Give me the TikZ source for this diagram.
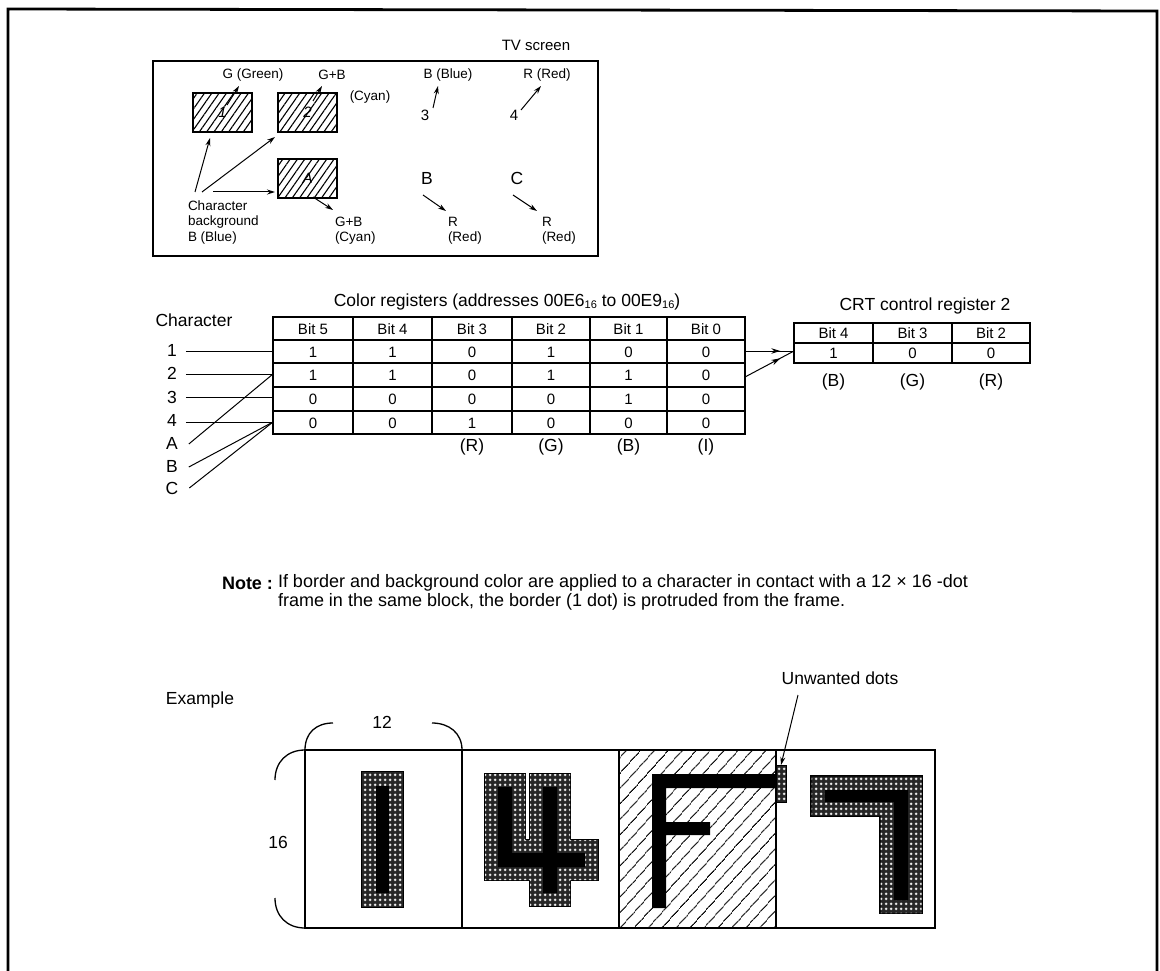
\documentclass[tikz,border=0pt]{standalone}
\usepackage{fontspec}
\setmainfont{Liberation Sans}
\usetikzlibrary{arrows.meta,patterns,patterns.meta,decorations.markings}
\newcommand{\subsix}{\raisebox{-1.5pt}{\fontsize{11}{11}\selectfont 16}}
\pgfdeclarepatternformonly{plusgrid}{\pgfqpoint{0pt}{0pt}}{\pgfqpoint{4.6pt}{4.6pt}}{\pgfqpoint{4.6pt}{4.6pt}}{%
  \pgfsetlinewidth{0.9pt}%
  \pgfpathmoveto{\pgfqpoint{0.9pt}{2.3pt}}\pgfpathlineto{\pgfqpoint{3.7pt}{2.3pt}}%
  \pgfpathmoveto{\pgfqpoint{2.3pt}{0.9pt}}\pgfpathlineto{\pgfqpoint{2.3pt}{3.7pt}}%
  \pgfusepath{stroke}}
\begin{document}
\begin{tikzpicture}[x=1pt,y=-1pt,
  every node/.style={inner sep=0pt,outer sep=0pt},
  fa/.style={font=\fontsize{13.5}{16}\selectfont},
  fb/.style={font=\fontsize{15}{17}\selectfont},
  fc/.style={font=\fontsize{18}{20}\selectfont},
  fd/.style={font=\fontsize{17.5}{20}\selectfont},
  hbox/.style={draw,line width=1.3pt,minimum width=59pt,minimum height=39pt,
    pattern={Lines[angle=55,distance=6pt,line width=1.1pt]},font=\fontsize{15}{17}\selectfont\itshape},
  arr/.style={-{Stealth[length=8pt,width=5pt]},line width=1pt},
  thin/.style={line width=1pt},
  tbl/.style={line width=1.4pt},
  midarr/.style={line width=1pt,postaction={decorate},decoration={markings,
    mark=at position 0.72 with {\arrow{Stealth[length=9pt,width=5.5pt]}}}},
  xpat/.style={pattern=plusgrid,pattern color=white},
  xfill/.style={fill=black!85},
  outl/.style={draw=black,line width=2.2pt}]
\useasboundingbox (0,0) rectangle (1160,971);
% outer frame
\draw[line width=2.8pt] (8,971) -- (8,9) -- (1157,11) -- (1157,971);

% ---------------- TV screen ----------------
\node[fb] (tvtitle) at (536,45) {TV screen};
\draw[line width=2.6pt] (153,61) rectangle (598,256);
\node[hbox] (b1) at (222.5,112.5) {1};
\node[hbox] (b2) at (307.5,112.5) {2};
\node[hbox] (bA) at (307.5,178.5) {A};
\node[fa] (green) at (253,75) {G (Green)};
\node[fa] (gb1) at (332,75) {G+B};
\node[fa] (cyan1) at (370,97) {(Cyan)};
\node[fa] (blue) at (448,75) {B (Blue)};
\node[fa] (red) at (547,75) {R (Red)};
\node[fb] (n3) at (425,115) {3};
\node[fb] (n4) at (514,115) {4};
\node[fa,anchor=west] (cbg1) at (188,206) {Character};
\node[fa,anchor=west] (cbg2) at (188,222) {background};
\node[fa,anchor=west] (cbg3) at (188,238) {B (Blue)};
\node[fa,anchor=west] (gb2) at (335,222) {G+B};
\node[fa,anchor=west] (cyan2) at (335,238) {(Cyan)};
\node[fd] (lB) at (427,178) {B};
\node[fa,anchor=west] (rB) at (448,222) {R};
\node[fa,anchor=west] (redB) at (448,238) {(Red)};
\node[fd] (lC) at (517,178) {C};
\node[fa,anchor=west] (rC) at (542,222) {R};
\node[fa,anchor=west] (redC) at (542,238) {(Red)};
% arrow ends
\coordinate (s1) at (227,105);  \coordinate (e1) at (239,86);
\coordinate (s2) at (313,101);  \coordinate (e2) at (322,86);
\coordinate (s3) at (433,108);  \coordinate (e3) at (438,86);
\coordinate (s4) at (521,110);  \coordinate (e4) at (541,86);
\coordinate (c1) at (195,192);  \coordinate (t1) at (210,138);
\coordinate (c2) at (202,192);  \coordinate (t2) at (275,137);
\coordinate (c3) at (213,192);  \coordinate (t3) at (275,192);
\coordinate (sA) at (313,197);  \coordinate (eA) at (333,210);
\coordinate (sB) at (423,195);  \coordinate (eB) at (446,211);
\coordinate (sC) at (513,195);  \coordinate (eC) at (537,211);
\draw[arr] (s1) -- (e1);
\draw[arr] (s2) -- (e2);
\draw[arr] (s3) -- (e3);
\draw[arr] (s4) -- (e4);
\draw[arr] (c1) -- (t1);
\draw[arr] (c2) -- (t2);
\draw[arr] (c3) -- (t3);
\draw[arr] (sA) -- (eA);
\draw[arr] (sB) -- (eB);
\draw[arr] (sC) -- (eC);

% ---------------- Color registers ----------------
\node[fd] (crtitle) at (507,302) {Color registers (addresses 00E6\subsix{} to 00E9\subsix)};
\node[fd] (chartitle) at (194,320) {Character};
\draw[tbl] (273,317) rectangle (745,434);
\foreach \yy in {340,363,387,411} \draw[tbl] (273,\yy) -- (745,\yy);
\foreach \xx in {353,432,512,590,667} \draw[tbl] (\xx,317) -- (\xx,434);
\foreach \cx/\t in {313/Bit 5,392.5/Bit 4,472/Bit 3,551/Bit 2,628.5/Bit 1,706/Bit 0}
  \node[fb] at (\cx,329) {\t};
\foreach \cx/\a/\b/\c/\d in {313/1/1/0/0,392.5/1/1/0/0,472/0/0/0/1,551/1/1/0/0,628.5/0/1/1/0,706/0/0/0/0}{
  \node[fb] at (\cx,352) {\a};
  \node[fb] at (\cx,375.5) {\b};
  \node[fb] at (\cx,399.5) {\c};
  \node[fb] at (\cx,423) {\d};}
\foreach \cx/\t in {472/(R),551/(G),628.5/(B),706/(I)}
  \node[fd] at (\cx,447) {\t};
% character labels
\node[fd] (k1) at (172,350) {1};
\node[fd] (k2) at (172,373) {2};
\node[fd] (k3) at (172,397) {3};
\node[fd] (k4) at (172,420) {4};
\node[fd] (kA) at (172,443) {A};
\node[fd] (kB) at (172,466) {B};
\node[fd] (kC) at (172,488) {C};
\coordinate (r1) at (273,351);
\coordinate (r2) at (273,374);
\coordinate (r3) at (273,397);
\coordinate (r4) at (273,422);
\draw[thin] (k1.east) ++(9,1) -- (r1);
\draw[thin] (k2.east) ++(9,1) -- (r2);
\draw[thin] (k3.east) ++(9,0) -- (r3);
\draw[thin] (k4.east) ++(9,2) -- (r4);
\draw[thin] (kA.east) ++(11,1) -- (r2);
\draw[thin] (kB.east) ++(11,1) -- (r4);
\draw[thin] (kC.east) ++(11,0) -- (r4);

% ---------------- CRT control register 2 ----------------
\node[fd] (crttitle) at (925,306) {CRT control register 2};
\draw[tbl] (794,323) rectangle (1030,363);
\draw[tbl] (794,343) -- (1030,343);
\foreach \xx in {873,952} \draw[tbl] (\xx,323) -- (\xx,363);
\foreach \cx/\h/\v/\f in {833.5/Bit 4/1/(B),912.5/Bit 3/0/(G),991/Bit 2/0/(R)}{
  \node[fb] at (\cx,333) {\h};
  \node[fb] at (\cx,353) {\v};
  \node[fd] at (\cx,382) {\f};}
\coordinate (o1) at (745,351);
\coordinate (o2) at (745,377);
\coordinate (crtin) at (794,351);
\draw[midarr] (o1) -- (crtin);
\draw[midarr] (o2) -- (crtin);

% ---------------- Note ----------------
\node[fc,anchor=east] (notelbl) at (273,583) {\bfseries Note :};
\node[fc,anchor=west] (note1) at (278,583) {If border and background color are applied to a character in contact with a 12 × 16 -dot};
\node[fc,anchor=west] (note2) at (278,602) {frame in the same block, the border (1 dot) is protruded from the frame.};

% ---------------- Example ----------------
\node[fd] (exlbl) at (200,700) {Example};
\node[fd] (twelve) at (382,722) {12};
\node[fd] (sixteen) at (278,842) {16};
\node[fd] (unw) at (840,678) {Unwanted dots};
% hatched cell F
\path[pattern={Lines[angle=48,distance=10.5pt,line width=1.3pt]}] (619,750) rectangle (776,928);
% frame
\draw[line width=1.5pt] (305,750) rectangle (935,928);
\foreach \xx in {462,619,776} \draw[line width=1.5pt] (\xx,750) -- (\xx,928);
% brackets
\draw[line width=1.3pt] (333,723) .. controls (316,723) and (305,733) .. (305,750);
\draw[line width=1.3pt] (432,723) .. controls (449,723) and (462,733) .. (462,750);
\draw[line width=1.3pt] (275,780) .. controls (275,762) and (287,750) .. (305,750);
\draw[line width=1.3pt] (275,898) .. controls (275,916) and (287,928) .. (305,928);
% glyph 1
\path[outl] (362,772) rectangle (403,907);
\path[xfill] (362,772) rectangle (403,907);
\path[xpat] (362,772) rectangle (403,907);
\fill (376,786) rectangle (389,893);
% glyph 4
\path[outl] (485,774) rectangle (525,880) (485,840) rectangle (598,880) (530,774) rectangle (570,906);
\path[xfill] (485,774) rectangle (525,880) (485,840) rectangle (598,880) (530,774) rectangle (570,906);
\path[xpat] (485,774) rectangle (525,880) (485,840) rectangle (598,880) (530,774) rectangle (570,906);
\fill (498,787) rectangle (512,867) (498,853) rectangle (585,867) (543,787) rectangle (557,893);
% glyph F
\fill (652,774) rectangle (666,908) (652,774) rectangle (776,788) (652,822) rectangle (710,835);
\node[draw,line width=1pt,minimum width=10pt,minimum height=37pt,preaction={fill=black!85},pattern=plusgrid,pattern color=white] (udots) at (781,783.5) {};
% glyph 7
\path[outl] (811.5,776.5) rectangle (921.5,815.5) (880.5,776.5) rectangle (921.5,913);
\path[xfill] (811.5,776.5) rectangle (921.5,815.5) (880.5,776.5) rectangle (921.5,913);
\path[xpat] (811.5,776.5) rectangle (921.5,815.5) (880.5,776.5) rectangle (921.5,913);
\fill (825,790) rectangle (908,802) (894,790) rectangle (908,900);
% unwanted dots arrow
\coordinate (uw) at (798,695);
\draw[arr] (uw) -- (udots.north);
\end{tikzpicture}
\end{document}
